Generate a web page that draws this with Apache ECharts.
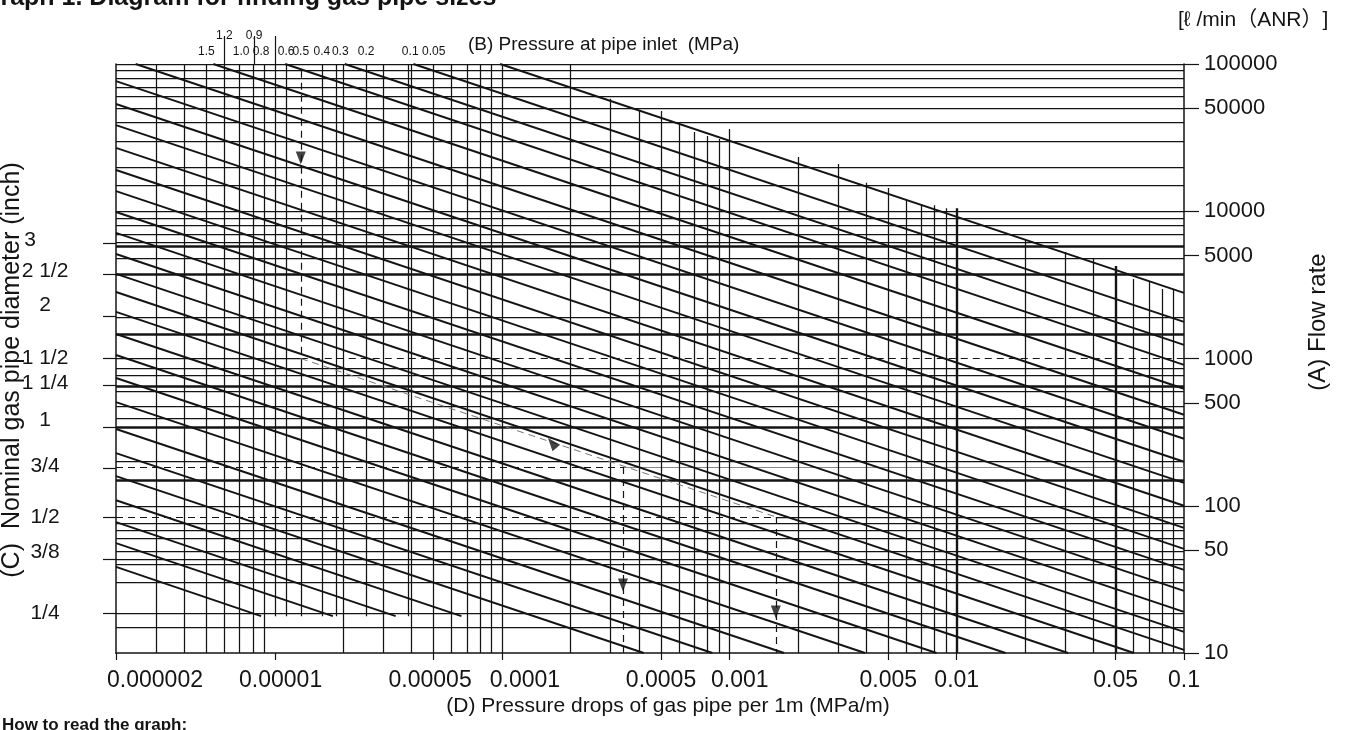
<!DOCTYPE html>
<html>
<head>
<meta charset="utf-8">
<title>Diagram for finding gas pipe sizes</title>
<script src="https://cdn.jsdelivr.net/npm/echarts@6.0.0/dist/echarts.min.js"></script>
<style>
  html, body { margin: 0; padding: 0; background: #fff; }
  #chart { width: 1346px; height: 730px; }
</style>
</head>
<body>
<div id="chart"></div>
<script>
// (D) pressure drop of gas pipe per 1m, MPa/m  (bottom scale)
const dropTicks = [2e-6, 1e-5, 5e-5, 1e-4, 5e-4, 1e-3, 5e-3, 1e-2, 5e-2, 0.1];
const dropLabels = ['0.000002', '0.00001', '0.00005', '0.0001', '0.0005', '0.001', '0.005', '0.01', '0.05', '0.1'];
// the printed labels do not all sit centred on their tick
const dropLabelAt = [2.97e-6, 1.06e-5, 4.82e-5, 1.26e-4, 5e-4, 1.11e-3, 5e-3, 1e-2, 5e-2, 0.1];

// (A) flow rate, l/min(ANR)  (right scale)
const flowTicks = [10, 50, 100, 500, 1000, 5000, 10000, 50000, 100000];

// (C) nominal pipe size, inch  (left scale): where the label sits, where its tick sits
const pipeSizes = ['3', '2 1/2', '2', '1 1/2', '1 1/4', '1', '3/4', '1/2', '3/8', '1/4'];
const pipeLabelFlow = [6400, 3900, 2300, 1000, 680, 382, 186, 84, 48, 18.7];
const pipeTickFlow = [6100, 3750, 1950, 1000, 660, 340, 180, 84, 43.5, 18.7];

// (B) pressure at pipe inlet, MPa  (top scale, two rows)
const inletLow = ['1.5', '1.0', '0.8', '0.6', '0.5', '0.4', '0.3', '0.2', '0.1', '0.05'];
const inletLowAt = [5.0e-6, 7.1e-6, 8.7e-6, 1.12e-5, 1.3e-5, 1.61e-5, 1.94e-5, 2.52e-5, 3.94e-5, 5.0e-5];
const inletHigh = ['1.2', '0.9'];
const inletHighAt = [6.0e-6, 8.1e-6];
const inletTickAt = [6.0e-6, 8.1e-6, 1.0e-5];

// horizontal rules (flow) running across the whole chart
const hFull = [100000, 90000, 80000, 70000, 60000, 50000, 40000, 30000, 20000, 15000,
  10000, 9000, 8000, 7000, 4800, 1900, 860, 770, 600, 475, 395, 200, 100,
  76, 68, 60, 49, 43, 40, 30, 18.7, 15];
const hBold = [5800, 3750, 1450, 650, 340, 150];
// [flow, from drop, to drop]
const hPart = [[6200, 2e-6, 0.028], [1000, 2e-6, 1.3e-5], [84, 1.6e-3, 0.1]];
const hGrey = [[183, 3.4e-4, 0.1]];

// vertical rules: [drop, top flow, bottom flow]
const vRules = [
  [3e-6, 1e5, 10], [4e-6, 1e5, 10], [5e-6, 1e5, 10], [6e-6, 1e5, 10], [7e-6, 1e5, 10],
  [8e-6, 1e5, 10], [9e-6, 1e5, 10], [1e-5, 1e5, 17.8], [1.12e-5, 1e5, 17.8], [1.3e-5, 1000, 17.8],
  [1.61e-5, 1e5, 17.8], [1.86e-5, 1e5, 17.8], [2e-5, 1e5, 10], [2.52e-5, 1e5, 17.8], [3e-5, 1e5, 10],
  [3.85e-5, 1e5, 17.8], [4e-5, 1e5, 10], [5e-5, 1e5, 10], [6e-5, 1e5, 10], [7e-5, 1e5, 10],
  [8e-5, 1e5, 10], [9e-5, 1e5, 10], [1e-4, 1e5, 10], [2e-4, 1e5, 10],
  [3e-4, 58000, 10], [4e-4, 48000, 10], [5e-4, 48000, 10], [6e-4, 38500, 10], [7e-4, 34500, 10],
  [8e-4, 32400, 10], [9e-4, 31000, 10], [1e-3, 36200, 10],
  [2e-3, 23400, 10], [3e-3, 20900, 10], [4e-3, 15600, 10], [5e-3, 14400, 10], [6e-3, 11900, 10],
  [7e-3, 11200, 10], [8e-3, 11000, 10], [9e-3, 10500, 10],
  [2e-2, 6380, 10], [3e-2, 5290, 10], [4e-2, 4740, 10], [6e-2, 3470, 10], [7e-2, 3310, 10],
  [8e-2, 2970, 10], [9e-2, 2970, 10]
];
const vBold = [[1e-2, 10500, 10], [5e-2, 4250, 10]];

// sloping lines: [drop, flow] at the start, [drop, flow] at the end
const slopes = [
  [9.8e-5, 100000, 0.1, 2790], [4.07e-5, 100000, 0.1, 1775], [2.03e-5, 100000, 0.1, 1239],
  [1.11e-5, 100000, 0.1, 906], [5.36e-6, 100000, 0.1, 623], [2.44e-6, 100000, 0.1, 415],
  [2e-6, 76600, 0.1, 285], [2e-6, 53500, 0.1, 199], [2e-6, 38500, 0.1, 143],
  [2e-6, 26900, 0.1, 100], [2e-6, 19060, 0.1, 70.8], [2e-6, 13700, 0.1, 51],
  [2e-6, 9880, 0.1, 36.7], [2e-6, 7120, 0.1, 26.4], [2e-6, 5125, 0.1, 19.05],
  [2e-6, 3750, 0.1, 13.9], [2e-6, 2830, 0.1, 10.5], [2e-6, 2070, 0.0602, 10],
  [2e-6, 1467, 0.0309, 10], [2e-6, 1056, 0.0164, 10], [2e-6, 737, 0.00815, 10],
  [2e-6, 506, 0.00395, 10], [2e-6, 332, 0.00174, 10], [2e-6, 228, 0.000842, 10],
  [2e-6, 159, 0.00042, 10], [2e-6, 109, 6.62e-5, 17.8], [2e-6, 77.5, 3.4e-5, 17.8],
  [2e-6, 55.8, 1.8e-5, 17.8], [2e-6, 38.4, 8.7e-6, 17.8]
];

// worked example (dashed): [drop, flow, drop, flow]
const example = [
  [1.3e-5, 90000, 1.3e-5, 1000], [1.3e-5, 1000, 0.1, 1000],
  [2e-6, 183, 3.4e-4, 183], [3.4e-4, 183, 3.4e-4, 10],
  [2e-6, 84, 1.6e-3, 84], [1.6e-3, 84, 1.6e-3, 10]
];
const exampleSlope = [[1.3e-5, 1000, 1.6e-3, 84]];
// arrow heads: [drop, flow, rotation]
const arrows = [[1.3e-5, 23000, 180], [3.4e-4, 29, 180], [1.6e-3, 19, 180], [1.66e-4, 267, 40]];

const lg = Math.log10;
const FONT = '"Liberation Sans", Arial, Helvetica, sans-serif';
const CJK = '"Liberation Sans", "Noto Sans CJK JP", sans-serif';
const INK = '#141414';

function seg(x1, y1, x2, y2) {
  return { coords: [[lg(x1), lg(y1)], [lg(x2), lg(y2)]] };
}
function nearestIndex(v, vals) {
  let best = 0;
  for (let i = 1; i < vals.length; i++) {
    if (Math.abs(lg(vals[i]) - v) < Math.abs(lg(vals[best]) - v)) best = i;
  }
  return best;
}
function linesSeries(name, data, style) {
  return {
    name: name, type: 'lines', coordinateSystem: 'cartesian2d',
    xAxisIndex: 0, yAxisIndex: 0, silent: true, clip: false,
    lineStyle: Object.assign({ color: INK, width: 1.25, opacity: 1, curveness: 0 }, style),
    data: data, z: 2
  };
}

const dMin = dropTicks[0], dMax = dropTicks[dropTicks.length - 1];
const fMin = flowTicks[0], fMax = flowTicks[flowTicks.length - 1];

const hData = hFull.map(q => seg(dMin, q, dMax, q))
  .concat(hPart.map(r => seg(r[1], r[0], r[2], r[0])));
const hBoldData = hBold.map(q => seg(dMin, q, dMax, q));
const hGreyData = hGrey.map(r => seg(r[1], r[0], r[2], r[0]));
const vData = vRules.map(r => seg(r[0], r[1], r[0], r[2]));
const vBoldData = vBold.map(r => seg(r[0], r[1], r[0], r[2]));
const slopeData = slopes.map(r => seg(r[0], r[1], r[2], r[3]));
const exampleData = example.map(r => seg(r[0], r[1], r[2], r[3]));
const exampleSlopeData = exampleSlope.map(r => seg(r[0], r[1], r[2], r[3]));

const chart = echarts.init(document.getElementById('chart'));

const tickStyle = { color: INK, width: 1.2 };
const option = {
  animation: false,
  backgroundColor: '#fff',
  textStyle: { fontFamily: FONT, color: INK },
  grid: { left: 116, right: 162, top: 64, bottom: 77, containLabel: false },
  xAxis: [
    {
      type: 'value', min: lg(dMin), max: lg(dMax), position: 'bottom',
      axisLine: { show: true, onZero: false, lineStyle: { color: INK, width: 1.5 } },
      axisTick: { show: true, customValues: dropTicks.map(lg), length: 7, lineStyle: tickStyle },
      axisLabel: {
        customValues: dropLabelAt.map(lg), margin: 16, fontSize: 23, color: INK, fontFamily: FONT,
        formatter: v => dropLabels[nearestIndex(v, dropLabelAt)]
      },
      splitLine: { show: false }
    },
    {
      type: 'value', min: lg(dMin), max: lg(dMax), position: 'top',
      axisLine: { show: false },
      axisTick: { show: true, customValues: inletTickAt.map(lg), length: 28, lineStyle: tickStyle },
      axisLabel: {
        customValues: inletLowAt.map(lg), margin: 6, fontSize: 12, color: INK, fontFamily: FONT,
        formatter: v => inletLow[nearestIndex(v, inletLowAt)]
      },
      splitLine: { show: false }
    },
    {
      type: 'value', min: lg(dMin), max: lg(dMax), position: 'top',
      axisLine: { show: false }, axisTick: { show: false },
      axisLabel: {
        customValues: inletHighAt.map(lg), margin: 22, fontSize: 12, color: INK, fontFamily: FONT,
        formatter: v => inletHigh[nearestIndex(v, inletHighAt)]
      },
      splitLine: { show: false }
    }
  ],
  yAxis: [
    {
      type: 'value', min: lg(fMin), max: lg(fMax), position: 'right',
      axisLine: { show: true, onZero: false, lineStyle: { color: INK, width: 1.5 } },
      axisTick: { show: true, customValues: flowTicks.map(lg), length: 15, lineStyle: tickStyle },
      axisLabel: {
        customValues: flowTicks.map(lg), margin: 20, fontSize: 22, color: INK, fontFamily: FONT,
        formatter: v => String(Math.round(Math.pow(10, v)))
      },
      splitLine: { show: false }
    },
    {
      type: 'value', min: lg(fMin), max: lg(fMax), position: 'left',
      axisLine: { show: true, onZero: false, lineStyle: { color: INK, width: 1.5 } },
      axisTick: { show: true, customValues: pipeTickFlow.map(lg), length: 13, lineStyle: tickStyle },
      axisLabel: {
        customValues: pipeLabelFlow.map(lg), margin: 71, align: 'center', fontSize: 21,
        color: INK, fontFamily: FONT,
        formatter: v => {
          const s = pipeSizes[nearestIndex(v, pipeLabelFlow)];
          return s === '3' ? '{w|' + s + '}' : s;
        },
        rich: { w: { fontSize: 21, fontFamily: FONT, color: INK, padding: [0, 30, 0, 0] } }
      },
      splitLine: { show: false }
    }
  ],
  graphic: [
    { type: 'text', x: -19, y: 11, style: { text: 'Graph 1. Diagram for finding gas pipe sizes', font: 'bold 25px ' + FONT, fill: INK, verticalAlign: 'bottom' } },
    { type: 'text', x: 2, y: 717, style: { text: 'How to read the graph:', font: 'bold 17px ' + FONT, fill: INK, verticalAlign: 'top' } },
    { type: 'text', x: 468, y: 45, style: { text: '(B) Pressure at pipe inlet  (MPa)', font: '19px ' + FONT, fill: INK, verticalAlign: 'middle' } },
    { type: 'text', x: 1178, y: 20, style: { text: '[\u2113 /min\uFF08ANR\uFF09]', font: '21px ' + CJK, fill: INK, verticalAlign: 'middle' } },
    { type: 'text', x: 1318, y: 322, rotation: Math.PI / 2, style: { text: '(A) Flow rate', font: '24px ' + FONT, fill: INK, align: 'center', verticalAlign: 'middle' } },
    { type: 'text', x: 12, y: 370, rotation: Math.PI / 2, style: { text: '(C)  Nominal gas pipe diameter (inch)', font: '25px ' + FONT, fill: INK, align: 'center', verticalAlign: 'middle' } },
    { type: 'text', x: 668, y: 706, style: { text: '(D) Pressure drops of gas pipe per 1m (MPa/m)', font: '21px ' + FONT, fill: INK, align: 'center', verticalAlign: 'middle' } }
  ],
  series: [
    linesSeries('rules', hData, {}),
    linesSeries('bold rules', hBoldData, { width: 2.6 }),
    linesSeries('grey rules', hGreyData, { color: '#888', width: 1.2 }),
    linesSeries('verticals', vData, {}),
    linesSeries('bold verticals', vBoldData, { width: 2.4 }),
    linesSeries('slopes', slopeData, { width: 1.9 }),
    linesSeries('example', exampleData, { type: [7, 5], width: 1.2 }),
    linesSeries('example slope', exampleSlopeData, { type: [7, 5], width: 1, color: '#777' }),
    {
      name: 'arrows', type: 'scatter', xAxisIndex: 0, yAxisIndex: 0, silent: true,
      symbol: 'triangle', symbolSize: [10, 13], itemStyle: { color: INK }, z: 5,
      data: arrows.map(a => ({ value: [lg(a[0]), lg(a[1])], symbolRotate: a[2] }))
    }
  ]
};
chart.setOption(option);
</script>
</body>
</html>
